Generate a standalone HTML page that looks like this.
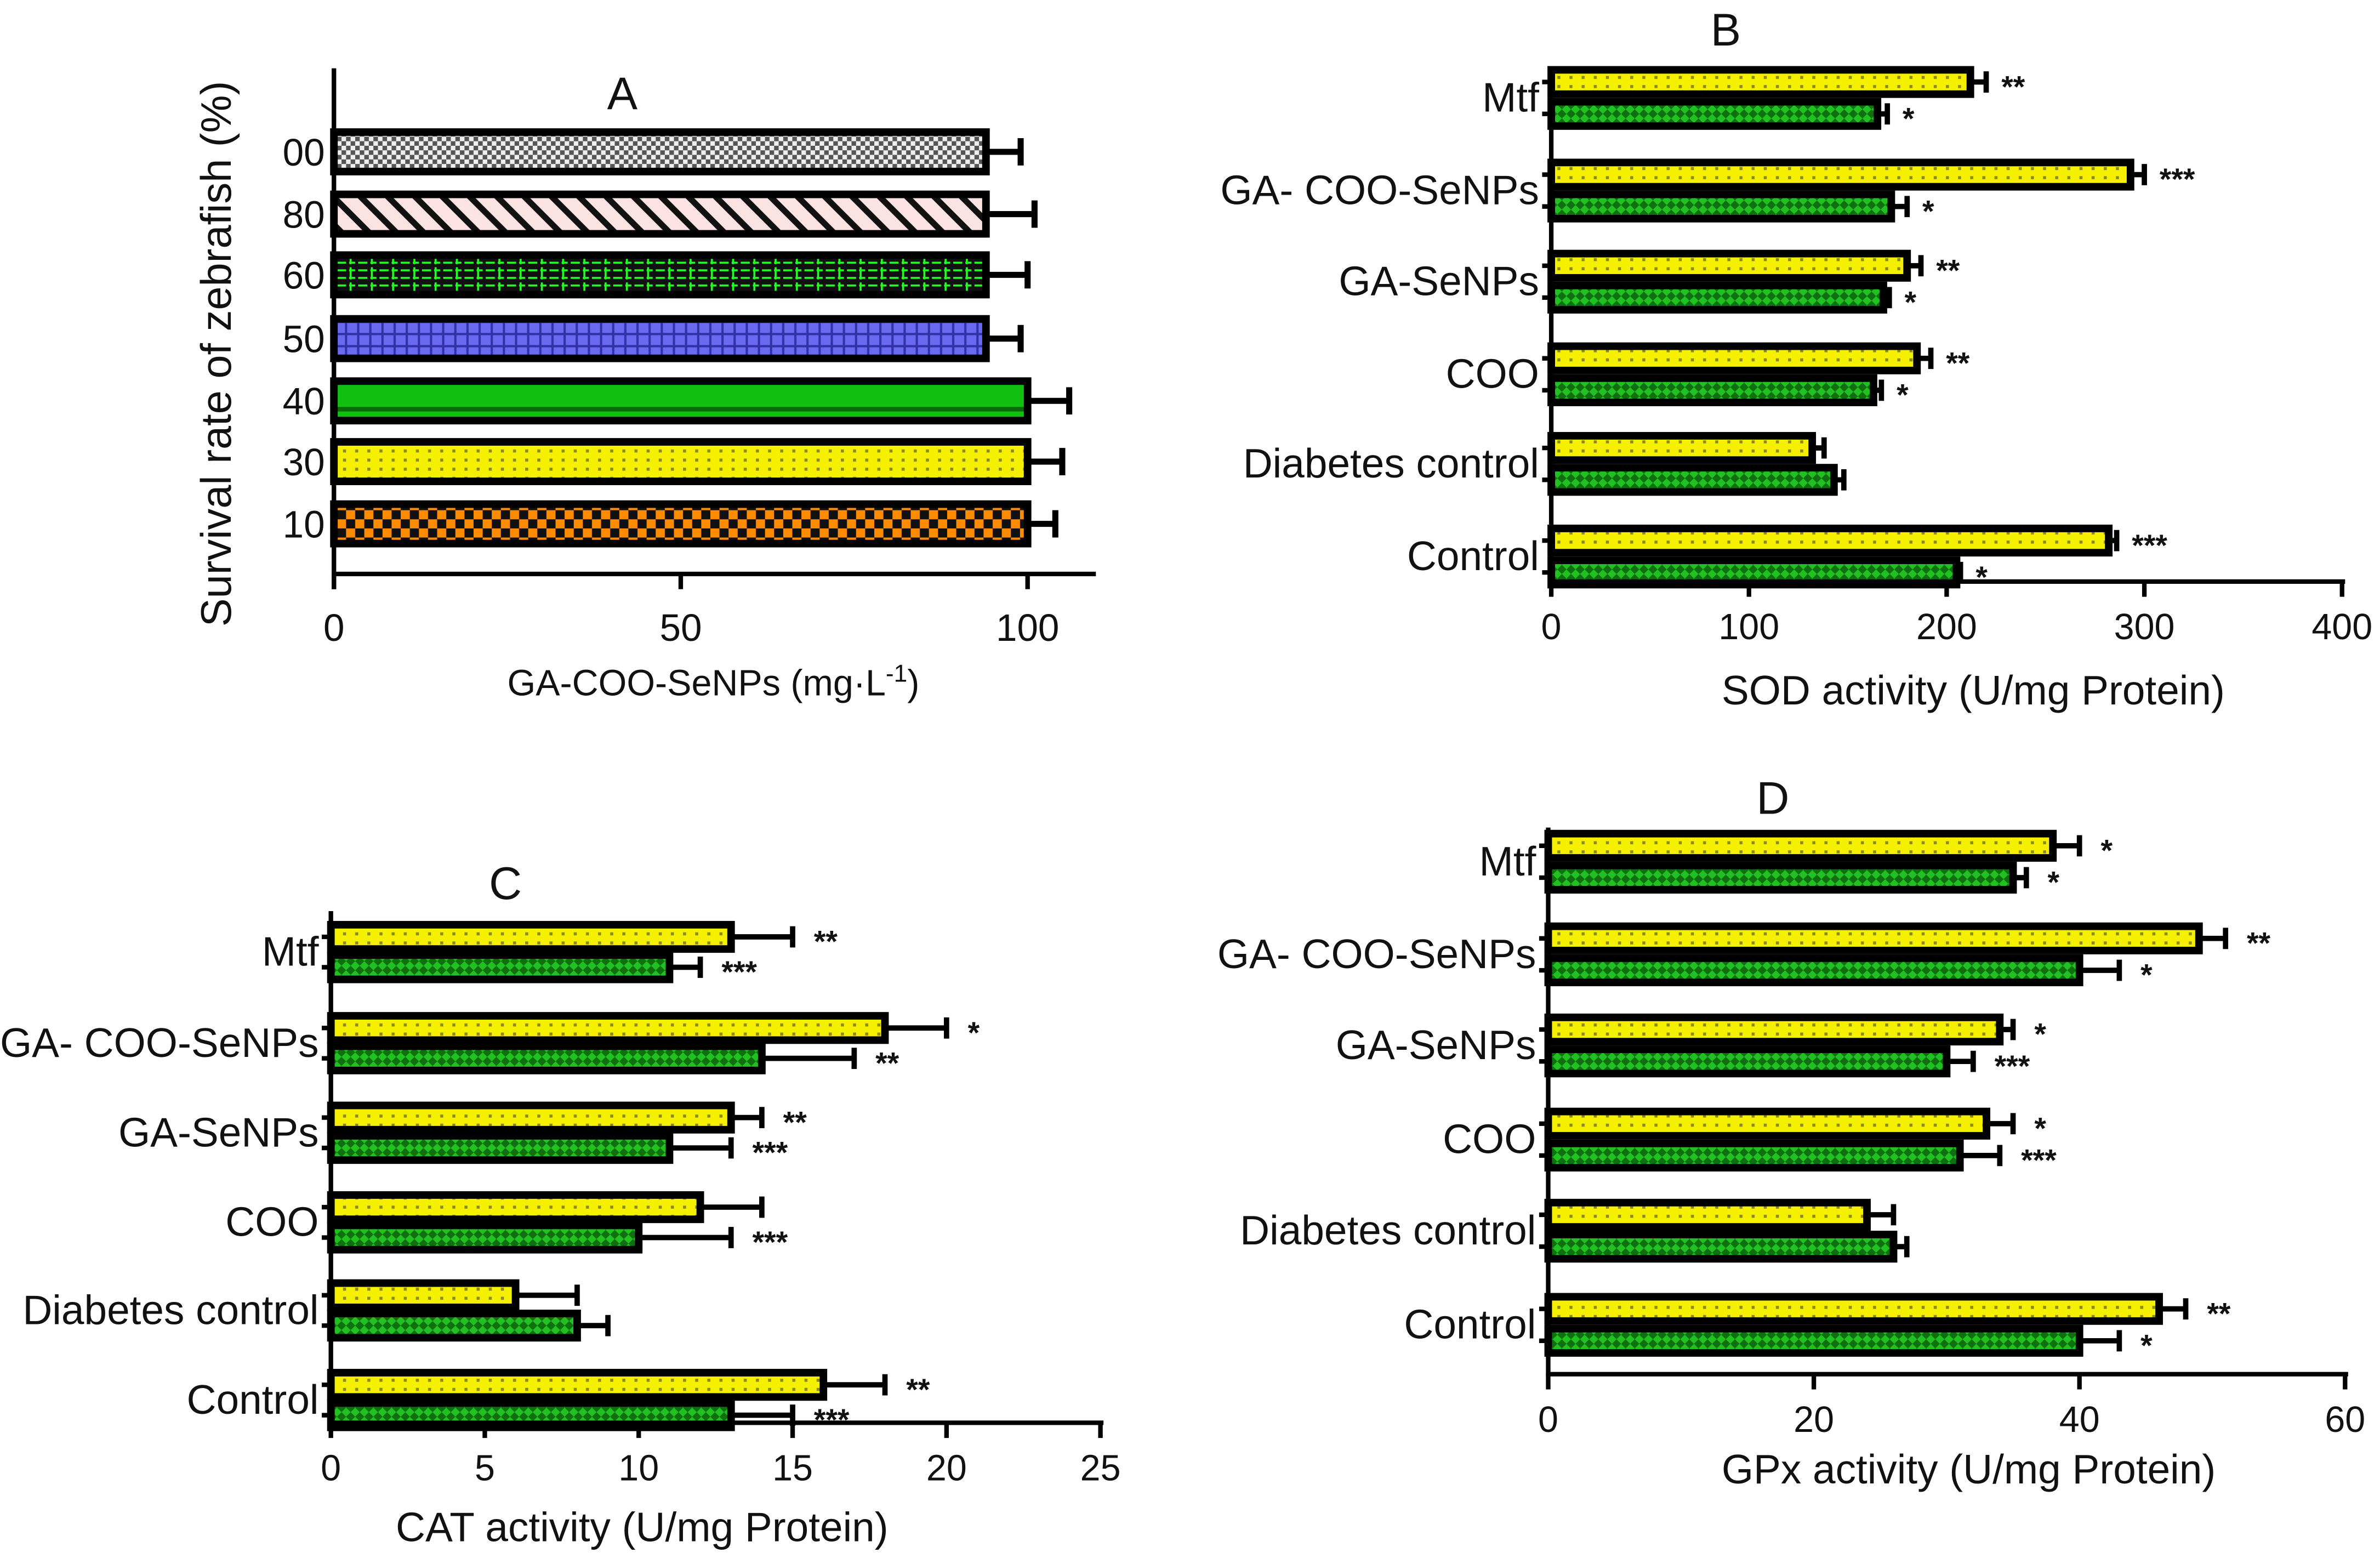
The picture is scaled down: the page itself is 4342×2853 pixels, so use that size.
<!DOCTYPE html>
<html><head><meta charset="utf-8"><style>
html,body{margin:0;padding:0;background:#fff}
svg{display:block}
text{font-family:"Liberation Sans",sans-serif;fill:#111}
</style></head><body>
<svg id="s" width="4342" height="2853" viewBox="0 0 1568 1030" preserveAspectRatio="none" xmlns="http://www.w3.org/2000/svg">
<defs>
<pattern id="pYel" width="8" height="6" patternUnits="userSpaceOnUse"><rect width="8" height="6" fill="#f5f000"/><rect x="2" y="2" width="2" height="2" fill="#8a8a20"/></pattern>
<pattern id="pGrn" width="6" height="6" patternUnits="userSpaceOnUse"><rect width="6" height="6" fill="#22c022"/><path d="M0 3 L3 0 L6 3 L3 6Z" fill="#0e700e"/></pattern>
<pattern id="pA0" width="6" height="6" patternUnits="userSpaceOnUse"><rect width="6" height="6" fill="#eee"/><rect width="3" height="3" fill="#555"/><rect x="3" y="3" width="3" height="3" fill="#555"/></pattern>
<pattern id="pA1" width="18" height="18" patternUnits="userSpaceOnUse"><rect width="18" height="18" fill="#fbe3e3"/><path d="M-2 -2 L20 20 M-11 7 L11 29 M7 -11 L29 11" stroke="#111" stroke-width="4"/></pattern>
<pattern id="pA2" width="14" height="10" patternUnits="userSpaceOnUse"><rect width="14" height="10" fill="#111"/><path d="M0 3 H14 M0 8 H14 M7 0 V10" stroke="#2f2" stroke-width="1.3" stroke-dasharray="4 2"/></pattern>
<pattern id="pA3" width="8" height="8" patternUnits="userSpaceOnUse"><rect width="8" height="8" fill="#6a6af0"/><path d="M0 4 H8 M4 0 V8" stroke="#3232a8" stroke-width="1.5"/></pattern>
<pattern id="pA4" width="10" height="20" patternUnits="userSpaceOnUse"><rect width="10" height="20" fill="#12c012"/><rect y="8" width="10" height="3" fill="#0a6a0a"/></pattern>
<pattern id="pA6" width="12" height="12" patternUnits="userSpaceOnUse"><rect width="12" height="12" fill="#111"/><rect width="6" height="6" fill="#ff8c00"/><rect x="6" y="6" width="6" height="6" fill="#ff8c00"/></pattern>
</defs>
<g id="root"></g>
</svg>
<script>
// Panel A data
const aCats=["00","80","60","50","40","30","10"];
const aVals=[94,94,94,94,100,100,100];
const aErr=[5,7,6,5,6,5,4];
const aTicks=[0,50,100];
// Shared categories for B-D
const groups=["Mtf","GA- COO-SeNPs","GA-SeNPs","COO","Diabetes control","Control"];
const bYel=[212,293,180,185,132,282];
const bYelErr=[8,7,7,7,6,4];
const bGrn=[165,172,168,163,143,205];
const bGrnErr=[5,8,3,4,5,2];
const bYelStar=["**","***","**","**","","***"];
const bGrnStar=["*","*","*","*","","*"];
const bTicks=[0,100,200,300,400];
const cYel=[13,18,13,12,6,16];
const cYelErr=[2,2,1,2,2,2];
const cGrn=[11,14,11,10,8,13];
const cGrnErr=[1,3,2,3,1,2];
const cYelStar=["**","*","**","","","**"];
const cGrnStar=["***","**","***","***","","***"];
const cTicks=[0,5,10,15,20,25];
const dYel=[38,49,34,33,24,46];
const dYelErr=[2,2,1,2,2,2];
const dGrn=[35,40,30,31,26,40];
const dGrnErr=[1,3,2,3,1,3];
const dYelStar=["*","**","*","*","","**"];
const dGrnStar=["*","*","***","***","","*"];
const dTicks=[0,20,40,60];

const NS="http://www.w3.org/2000/svg";
const root=document.getElementById('root');
function el(tag,attrs,txt){const e=document.createElementNS(NS,tag);for(const k in attrs)e.setAttribute(k,attrs[k]);if(txt!==undefined)e.textContent=txt;root.appendChild(e);return e;}

// ---------- Panel A ----------
(function(){
 const x0=220,x1=677,maxV=100,yTop=45,yAx=378;
 const sx=v=>x0+(x1-x0)*v/maxV;
 const cy=[100,141,181,223,264,304,345];
 const fills=["pA0","pA1","pA2","pA3","pA4","pYel","pA6"];
 aCats.forEach((c,i)=>{
  const r=el('rect',{x:x0,y:cy[i]-13,width:sx(aVals[i])-x0,height:26,fill:`url(#${fills[i]})`,stroke:'#000','stroke-width':5});
  
  
  const xe=sx(aVals[i]+aErr[i]);
  const e=el('path',{d:`M${sx(aVals[i])} ${cy[i]} H${xe} M${xe} ${cy[i]-9} V${cy[i]+9}`,stroke:'#000','stroke-width':4,fill:'none'});
  
  
  const t=el('text',{x:214,y:cy[i]+9,'text-anchor':'end','font-size':25},c);
  
  
 });
 el('path',{d:`M${x0} ${yTop} V${yAx+10} M${x0} ${yAx} H722`,stroke:'#000','stroke-width':3,fill:'none'});
 aTicks.forEach(v=>{
  el('path',{d:`M${sx(v)} ${yAx} V${yAx+10}`,stroke:'#000','stroke-width':3});
  const t=el('text',{x:sx(v),y:422,'text-anchor':'middle','font-size':25},String(v));
  
  
 });
 el('text',{x:410,y:72,'text-anchor':'middle','font-size':30},'A');
 const xt=el('text',{x:470,y:458,'text-anchor':'middle','font-size':24},'GA-COO-SeNPs (mg·L');
 const sup=el('tspan',{dy:-9,'font-size':16},'-1');xt.appendChild(sup);
 const cl=el('tspan',{dy:9},')');xt.appendChild(cl);
 
 
 const yt=el('text',{transform:'translate(152,233) rotate(-90)','text-anchor':'middle','font-size':28},'Survival rate of zebrafish (%)');
 
 
})();

// ---------- Panels B-D ----------
function panel(o){
 const sx=v=>o.x0+(o.x1-o.x0)*v/o.maxV;
 groups.forEach((g,i)=>{
  [[o.yel,o.yelErr,o.yelStar,o.yy[i],'pYel','yellow'],[o.grn,o.grnErr,o.grnStar,o.yy[i]+o.gap,'pGrn','green']].forEach(s=>{
   const [vals,errs,stars,cy,fill,nm]=s;
   const r=el('rect',{x:o.x0,y:cy-8,width:sx(vals[i])-o.x0,height:16,fill:`url(#${fill})`,stroke:'#000','stroke-width':5});
   
   
   const xe=sx(vals[i]+errs[i]);
   const e=el('path',{d:`M${sx(vals[i])} ${cy} H${xe} M${xe} ${cy-7} V${cy+7}`,stroke:'#000','stroke-width':3.5,fill:'none'});
   
   
   if(stars[i]){
    const t=el('text',{x:xe+o.sOff,y:cy+10,'font-size':20,'font-weight':'bold'},stars[i]);
    
    
   }
  });
  const t=el('text',{x:o.x0-8,y:o.yy[i]+o.gap/2+9,'text-anchor':'end','font-size':27},g);
  
  
  el('path',{d:`M${o.x0-6} ${o.yy[i]} H${o.x0} M${o.x0-6} ${o.yy[i]+o.gap} H${o.x0}`,stroke:'#000','stroke-width':3});
 });
 el('path',{d:`M${o.x0} ${o.yTop} V${o.yAx} H${o.x1+2}`,stroke:'#000','stroke-width':3,fill:'none'});
 o.ticks.forEach(v=>{
  el('path',{d:`M${sx(v)} ${o.yAx} V${o.yAx+10}`,stroke:'#000','stroke-width':3});
  const t=el('text',{x:sx(v),y:o.yAx+38,'text-anchor':'middle','font-size':24},String(v));
  
  
 });
 const pt=el('text',{x:o.lx,y:o.ly,'text-anchor':'middle','font-size':30},o.id.toUpperCase());
 
 
 const xt=el('text',{x:o.tx,y:o.ty,'text-anchor':'middle','font-size':27},o.title);
 
 
}
panel({id:'b',x0:1022,x1:1543,maxV:400,yTop:45,yAx:383,yy:[54,115,175,236,295,356],gap:21,
 yel:bYel,yelErr:bYelErr,grn:bGrn,grnErr:bGrnErr,yelStar:bYelStar,grnStar:bGrnStar,ticks:bTicks,sOff:10,
 lx:1137,ly:30,tx:1300,ty:464,title:'SOD activity (U/mg Protein)'});
panel({id:'c',x0:218,x1:725,maxV:25,yTop:600,yAx:937,yy:[617,677,736,795,853,912],gap:20,
 yel:cYel,yelErr:cYelErr,grn:cGrn,grnErr:cGrnErr,yelStar:cYelStar,grnStar:cGrnStar,ticks:cTicks,sOff:14,
 lx:333,ly:592,tx:423,ty:1015,title:'CAT activity (U/mg Protein)'});
panel({id:'d',x0:1020,x1:1545,maxV:60,yTop:545,yAx:905,yy:[557,618,678,740,800,862],gap:21,
 yel:dYel,yelErr:dYelErr,grn:dGrn,grnErr:dGrnErr,yelStar:dYelStar,grnStar:dGrnStar,ticks:dTicks,sOff:14,
 lx:1168,ly:536,tx:1297,ty:977,title:'GPx activity (U/mg Protein)'});
</script>
</body></html>
